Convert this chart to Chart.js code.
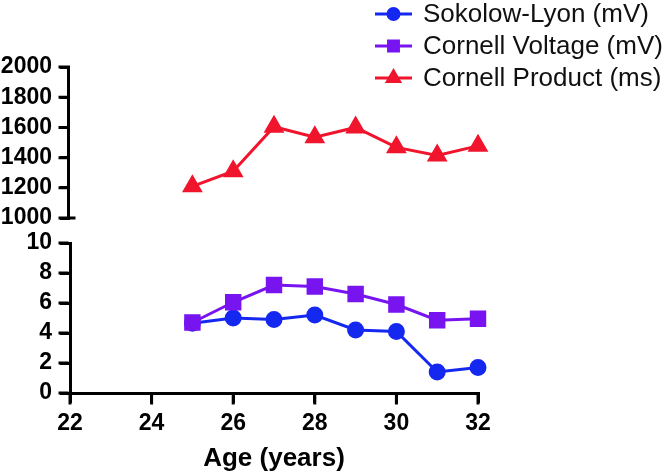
<!DOCTYPE html>
<html>
<head>
<meta charset="utf-8">
<script src="https://cdn.jsdelivr.net/npm/chart.js@4/dist/chart.umd.min.js"></script>
<style>
  html, body { margin: 0; padding: 0; background: #fff; }
  #wrap { width: 667px; height: 474px; position: relative; }
</style>
</head>
<body>
<div id="wrap"><canvas id="grafico"></canvas></div>
<script>
// valores
const idades = [25, 26, 27, 28, 29, 30, 31, 32];
const sokolowLyon = [4.65, 5.0, 4.9, 5.2, 4.2, 4.1, 1.4, 1.7];
const cornellVoltagem = [4.7, 6.05, 7.2, 7.1, 6.6, 5.9, 4.85, 4.95];
const cornellProduto = [1210, 1310, 1605, 1535, 1600, 1468, 1415, 1478];
const rotulos = ['Sokolow-Lyon (mV)', 'Cornell Voltage (mV)', 'Cornell Product (ms)'];
const ticksX = [22, 24, 26, 28, 30, 32];
const ticksMv = [0, 2, 4, 6, 8, 10];
const ticksMs = [1000, 1200, 1400, 1600, 1800, 2000];

const pontos = (ys) => idades.map((x, i) => ({ x: x, y: ys[i] }));
const fonteEixo = { family: 'Liberation Sans, Arial, sans-serif', size: 23, weight: 'bold' };
const fixarTicks = (lista) => (s) => { s.ticks = lista.map(v => ({ value: v })); };
const semVirgula = (v) => String(v);

// eixo quebrado: linha do eixo superior só de 1000 a 2000, marcas dos ticks e legenda vertical
const eixoQuebrado = {
    id: 'eixoQuebrado',
    afterDraw(chart) {
        const ctx = chart.ctx;
        const { x: sx, y: sy, y2 } = chart.scales;
        const xEixo = sy.right - 1.5;
        const yEixo = sx.top + 1.5;
        ctx.save();
        ctx.strokeStyle = '#000';
        ctx.lineWidth = 3;
        ctx.lineCap = 'butt';
        ctx.beginPath();
        ctx.moveTo(xEixo, y2.getPixelForValue(2000) - 1.5);
        ctx.lineTo(xEixo, y2.getPixelForValue(1000) + 1.5);
        ctx.moveTo(xEixo, y2.getPixelForValue(1000));
        ctx.lineTo(xEixo + 7, y2.getPixelForValue(1000));
        [sy, y2].forEach(s => s.ticks.forEach(t => {
            const p = s.getPixelForValue(t.value);
            ctx.moveTo(xEixo - 10, p);
            ctx.lineTo(xEixo, p);
        }));
        sx.ticks.forEach(t => {
            const p = sx.getPixelForValue(t.value);
            ctx.moveTo(p, yEixo);
            ctx.lineTo(p, yEixo + 10);
        });
        ctx.stroke();

        // Legenda
        ctx.font = '26px "Liberation Sans", Arial, sans-serif';
        ctx.textBaseline = 'middle';
        ctx.textAlign = 'left';
        chart.data.datasets.forEach((ds, i) => {
            const ly = 14 + i * 32;
            ctx.strokeStyle = ds.borderColor;
            ctx.lineWidth = 3;
            ctx.beginPath();
            ctx.moveTo(375, ly);
            ctx.lineTo(412, ly);
            ctx.stroke();
            ctx.fillStyle = ds.backgroundColor;
            Chart.helpers.drawPoint(ctx, { pointStyle: ds.pointStyle, radius: ds.pointStyle === 'circle' ? 5.5 : 7, borderWidth: 1 }, 393.5, ly);
            ctx.fill();
            ctx.fillStyle = '#111';
            ctx.fillText(ds.label, 423, ly + 1);
        });
        ctx.restore();
    }
};

new Chart(document.getElementById('grafico'), {
    type: 'line',
    data: {
        datasets: [
            {
                label: rotulos[0],
                data: pontos(sokolowLyon),
                yAxisID: 'y',
                borderColor: '#1428f0',
                backgroundColor: '#1428f0',
                pointStyle: 'circle',
                pointRadius: 7,
                borderWidth: 3,
                clip: false,
                order: 2
            },
            {
                label: rotulos[1],
                data: pontos(cornellVoltagem),
                yAxisID: 'y',
                borderColor: '#7814f0',
                backgroundColor: '#7814f0',
                pointStyle: 'rect',
                pointRadius: 9.5,
                borderWidth: 3,
                clip: false,
                order: 1
            },
            {
                label: rotulos[2],
                data: pontos(cornellProduto),
                yAxisID: 'y2',
                borderColor: '#f0142d',
                backgroundColor: '#f0142d',
                pointStyle: 'triangle',
                pointRadius: 9,
                borderWidth: 3,
                clip: false,
                order: 0
            }
        ]
    },
    options: {
        responsive: true,
        maintainAspectRatio: false,
        animation: false,
        layout: { padding: { top: 67, right: 189, left: 0, bottom: 0 } },
        plugins: { legend: { display: false }, tooltip: { enabled: false } },
        elements: { line: { tension: 0 }, point: { borderWidth: 1 } },
        scales: {
            x: {
                type: 'linear',
                min: 22,
                max: 32,
                afterBuildTicks: fixarTicks(ticksX),
                afterFit: (s) => { s.height = 81; },
                grid: { drawOnChartArea: false, drawTicks: true, tickLength: 10, color: '#000', lineWidth: 3 },
                border: { color: '#000', width: 3 },
                ticks: { color: '#000', font: fonteEixo, padding: 7, maxRotation: 0, autoSkip: false, callback: semVirgula },
                title: {
                    display: true,
                    text: 'Age (years)',
                    color: '#000',
                    font: { family: 'Liberation Sans, Arial, sans-serif', size: 26, weight: 'bold' },
                    padding: { top: 6, bottom: 0 }
                }
            },
            y: {
                type: 'linear',
                position: 'left',
                stack: 'quebra',
                stackWeight: 150,
                min: 0,
                max: 10,
                afterBuildTicks: fixarTicks(ticksMv),
                afterFit: (s) => { s.width = 70; },
                grid: { drawOnChartArea: false, drawTicks: true, tickLength: 10, color: '#000', lineWidth: 3 },
                border: { color: '#000', width: 3 },
                ticks: { color: '#000', font: fonteEixo, padding: 8, autoSkip: false, callback: semVirgula }
            },
            y2: {
                type: 'linear',
                position: 'left',
                stack: 'quebra',
                stackWeight: 176,
                min: 835,
                max: 2000,
                afterBuildTicks: fixarTicks(ticksMs),
                afterFit: (s) => { s.width = 70; },
                grid: { drawOnChartArea: false, drawTicks: true, tickLength: 10, color: '#000', lineWidth: 3 },
                border: { display: false },
                ticks: { color: '#000', font: fonteEixo, padding: 8, autoSkip: false, callback: semVirgula }
            }
        }
    },
    plugins: [eixoQuebrado]
});
</script>
</body>
</html>
